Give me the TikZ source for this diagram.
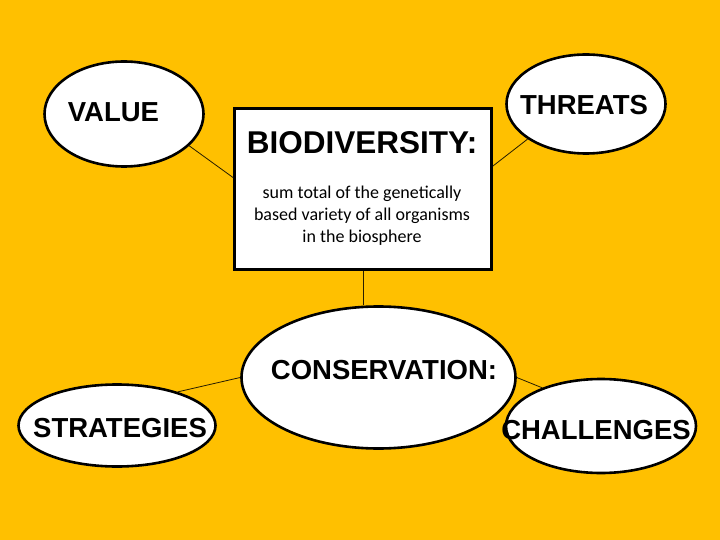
\documentclass[tikz,border=0pt]{standalone}
\usepackage{fontspec}
\setsansfont{Liberation Sans}
\newfontfamily\calibrifont{Carlito}
\usepackage{xcolor}
\usepackage{tikz}
\usetikzlibrary{shapes.geometric}
\definecolor{slidegold}{HTML}{FFC000}

\begin{document}
\begin{tikzpicture}[x=1bp,y=-1bp,
    bubble/.style={draw,ellipse,fill=white,line width=2.6bp,inner sep=0pt},
    topicbox/.style={draw,rectangle,fill=white,line width=2.6bp,inner sep=0pt},
    bubbletext/.style={font=\sffamily\bfseries\fontsize{27.5bp}{33bp}\selectfont,inner sep=0pt},
    link/.style={line width=0.8bp,draw=black!85!slidegold}]
    \fill[slidegold] (0,0) rectangle (720,540);
    \useasboundingbox (0,0) rectangle (720,540);
    \node[topicbox,minimum width=257bp,minimum height=161bp] (bio) at (363,189) {};
    \node[bubble,minimum width=159bp,minimum height=105bp] (value) at (124,114) {};
    \node[bubble,minimum width=159bp,minimum height=99bp] (threats) at (586,104) {};
    \node[bubble,minimum width=274bp,minimum height=142bp] (cons) at (378.5,377.5) {};
    \node[bubble,minimum width=197bp,minimum height=82bp] (strat) at (117,425.5) {};
    \node[bubble,minimum width=190bp,minimum height=94bp] (chall) at (601,426) {};
    \node[bubbletext] (valuetext) at (113.5,112) {VALUE};
    \node[bubbletext] (threatstext) at (584,105) {THREATS};
    \node[bubbletext] (constext) at (384,370) {CONSERVATION:};
    \node[bubbletext] (strattext) at (120,428) {STRATEGIES};
    \node[bubbletext] (challtext) at (596,430) {CHALLENGES};
    \node[inner sep=0pt,font=\sffamily\bfseries\fontsize{31.5bp}{37bp}\selectfont] (biotitle) at (362,143) {BIODIVERSITY:};
    \node[inner sep=0pt,align=center,font=\calibrifont\fontsize{18bp}{22bp}\selectfont] (biotext) at (362,216)
        {sum total of the genetically\\based variety of all organisms\\in the biosphere};
    \draw[link] (value.-26) -- (bio.175);
    \draw[link] (bio.10) -- (threats.211);
    \draw[link] (bio.south) -- (bio.south |- cons.north);
    \draw[link] (strat.29) -- (cons.west);
    \draw[link] (cons.east) -- (chall.147);
\end{tikzpicture}
\end{document}
